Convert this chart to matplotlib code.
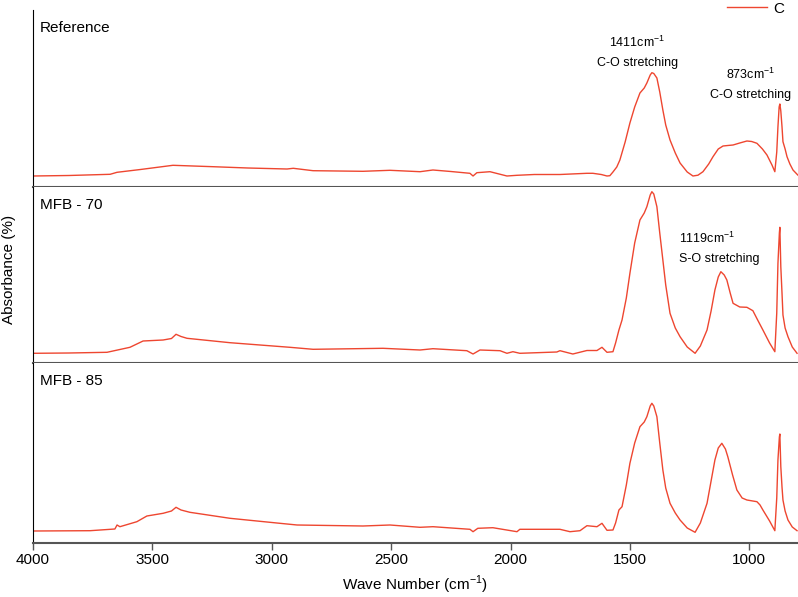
import matplotlib
matplotlib.use("Agg")
import matplotlib.pyplot as plt

plt.rcParams['font.family'] = ['Liberation Sans', 'DejaVu Sans']
plt.rcParams['mathtext.fontset'] = 'custom'
plt.rcParams['mathtext.rm'] = 'Liberation Sans'

# --- dane (liczba falowa cm-1, absorbancja j.u.) ---
ref_wn = [4000, 3850, 3677, 3648, 3550, 3414, 3246, 3100, 2936, 2910, 2827, 2618,
          2505, 2379, 2325, 2250, 2170, 2157, 2141, 2086, 2015, 1973, 1900, 1793,
          1680, 1655, 1620, 1596, 1584, 1571, 1555, 1542, 1520, 1500, 1480, 1458,
          1440, 1429, 1415, 1408, 1400, 1387, 1375, 1362, 1350, 1332, 1310, 1290,
          1260, 1236, 1215, 1194, 1170, 1152, 1130, 1110, 1090, 1068, 1040, 1010,
          990, 968, 945, 926, 905, 893, 885, 880, 875, 872, 868, 863,
          859, 850, 842, 830, 817, 797]
ref_abs = [0.110, 0.115, 0.127, 0.147, 0.175, 0.217, 0.203, 0.190, 0.180, 0.187, 0.163, 0.157,
           0.167, 0.153, 0.170, 0.155, 0.137, 0.110, 0.143, 0.153, 0.110, 0.117, 0.125, 0.125,
           0.137, 0.137, 0.125, 0.110, 0.113, 0.150, 0.200, 0.270, 0.450, 0.640, 0.800, 0.940,
           0.990, 1.040, 1.120, 1.143, 1.135, 1.090, 0.950, 0.770, 0.620, 0.470, 0.340, 0.240,
           0.150, 0.110, 0.118, 0.153, 0.230, 0.303, 0.380, 0.410, 0.415, 0.420, 0.440, 0.460,
           0.455, 0.437, 0.380, 0.320, 0.220, 0.153, 0.350, 0.603, 0.800, 0.830, 0.760, 0.603,
           0.453, 0.380, 0.303, 0.230, 0.170, 0.120]

mfb70_wn = [4000, 3850, 3690, 3594, 3539, 3455, 3420, 3401, 3380, 3355, 3175, 2924,
            2827, 2534, 2379, 2325, 2183, 2157, 2128, 2044, 2015, 1990, 1961, 1806,
            1793, 1739, 1680, 1638, 1617, 1596, 1571, 1560, 1546, 1533, 1515, 1500,
            1480, 1458, 1440, 1429, 1415, 1408, 1400, 1387, 1375, 1362, 1350, 1332,
            1310, 1290, 1260, 1227, 1205, 1177, 1160, 1144, 1130, 1119, 1105, 1094,
            1080, 1068, 1040, 1010, 985, 965, 943, 915, 893, 885, 880, 874,
            872, 868, 863, 859, 850, 838, 820, 800]
mfb70_abs = [0.097, 0.100, 0.107, 0.157, 0.220, 0.230, 0.245, 0.287, 0.265, 0.247, 0.203, 0.157,
             0.137, 0.147, 0.130, 0.143, 0.123, 0.090, 0.130, 0.123, 0.097, 0.113, 0.097, 0.110,
             0.123, 0.090, 0.125, 0.125, 0.157, 0.107, 0.113, 0.200, 0.330, 0.430, 0.650, 0.897,
             1.200, 1.430, 1.500, 1.563, 1.680, 1.713, 1.690, 1.563, 1.300, 1.030, 0.780, 0.497,
             0.350, 0.263, 0.160, 0.097, 0.170, 0.330, 0.520, 0.730, 0.860, 0.913, 0.880, 0.830,
             0.700, 0.597, 0.560, 0.557, 0.523, 0.430, 0.330, 0.200, 0.113, 0.500, 0.997, 1.300,
             1.357, 0.963, 0.700, 0.480, 0.350, 0.263, 0.160, 0.097]

mfb85_wn = [4000, 3761, 3657, 3648, 3636, 3565, 3523, 3455, 3420, 3401, 3380, 3343,
            3175, 2966, 2894, 2618, 2505, 2379, 2325, 2170, 2157, 2137, 2074, 1973,
            1961, 1793, 1751, 1709, 1680, 1638, 1617, 1596, 1571, 1560, 1546, 1533,
            1515, 1500, 1480, 1458, 1440, 1429, 1415, 1408, 1400, 1387, 1375, 1362,
            1350, 1332, 1310, 1290, 1260, 1227, 1205, 1177, 1160, 1144, 1130, 1115,
            1100, 1090, 1070, 1052, 1030, 1010, 968, 955, 943, 915, 893, 885,
            880, 874, 872, 868, 863, 859, 850, 838, 820, 800]
mfb85_abs = [0.120, 0.123, 0.140, 0.180, 0.163, 0.213, 0.270, 0.297, 0.320, 0.357, 0.330, 0.307,
             0.247, 0.197, 0.180, 0.170, 0.180, 0.157, 0.163, 0.137, 0.113, 0.147, 0.153, 0.113,
             0.137, 0.137, 0.113, 0.123, 0.173, 0.163, 0.197, 0.127, 0.130, 0.200, 0.330, 0.363,
             0.580, 0.797, 1.000, 1.163, 1.210, 1.263, 1.370, 1.397, 1.370, 1.263, 1.000, 0.730,
             0.550, 0.397, 0.300, 0.230, 0.150, 0.107, 0.200, 0.397, 0.620, 0.830, 0.950, 0.997,
             0.940, 0.863, 0.680, 0.530, 0.450, 0.430, 0.413, 0.380, 0.330, 0.220, 0.123, 0.450,
             0.830, 1.060, 1.090, 0.763, 0.560, 0.430, 0.320, 0.230, 0.160, 0.123]

panel_names = ['Reference', 'MFB - 70', 'MFB - 85']
xticks = [4000, 3500, 3000, 2500, 2000, 1500, 1000]

line_color = '#ee4630'
sep_color = '#555555'

fig = plt.figure(figsize=(7.98, 5.97), dpi=100)

left = 33 / 798
width = 765 / 798
# gora i dol paneli w pikselach od gory obrazka
boxes = [(10, 187), (187, 363), (363, 543)]
ylims = [(0, 1.77), (0, 1.76), (0, 1.80)]
series = [(ref_wn, ref_abs), (mfb70_wn, mfb70_abs), (mfb85_wn, mfb85_abs)]

axes = []
for i, ((top, bot), (wn, ab)) in enumerate(zip(boxes, series)):
    ax = fig.add_axes([left, 1 - bot / 597, width, (bot - top) / 597])
    ax.plot(wn, ab, color=line_color, linewidth=1.0, label='C' if i == 0 else None)
    ax.set_xlim(4000, 796)
    ax.set_ylim(*ylims[i])
    ax.set_yticks([])
    ax.spines['top'].set_visible(False)
    ax.spines['right'].set_visible(False)
    ax.spines['left'].set_color('black')
    ax.spines['bottom'].set_color(sep_color)
    ax.spines['bottom'].set_linewidth(1.5)
    ax.text(0.009, 0.90, panel_names[i], transform=ax.transAxes,
            fontsize=11, ha='left', va='center')
    if i < 2:
        ax.set_xticks([])
    else:
        ax.set_xticks(xticks)
        ax.set_xticklabels([str(t) for t in xticks], fontsize=11)
        ax.tick_params(axis='x', direction='out', length=5, width=1, color=sep_color, pad=2)
        ax.set_xlabel('Wave Number (cm$^{-1}$)', fontsize=11, labelpad=5)
    axes.append(ax)

# adnotacje pasm
axes[0].text(1469, 1.45, '1411cm$^{-1}$', fontsize=9, ha='center', va='center')
axes[0].text(1469, 1.24, 'C-O stretching', fontsize=9, ha='center', va='center')
axes[0].text(993, 1.13, '873cm$^{-1}$', fontsize=9, ha='center', va='center')
axes[0].text(993, 0.92, 'C-O stretching', fontsize=9, ha='center', va='center')
axes[1].text(1295, 1.25, '1119cm$^{-1}$', fontsize=9, ha='left', va='center')
axes[1].text(1295, 1.04, 'S-O stretching', fontsize=9, ha='left', va='center')

fig.legend(loc='upper right', bbox_to_anchor=(1.0, 1.02), frameon=False,
           fontsize=11, handlelength=2.6, handletextpad=0.4)

fig.text(0.011, 0.548, 'Absorbance (%)', rotation=90, fontsize=11,
         ha='center', va='center')

fig.savefig('out.png', dpi=100)
